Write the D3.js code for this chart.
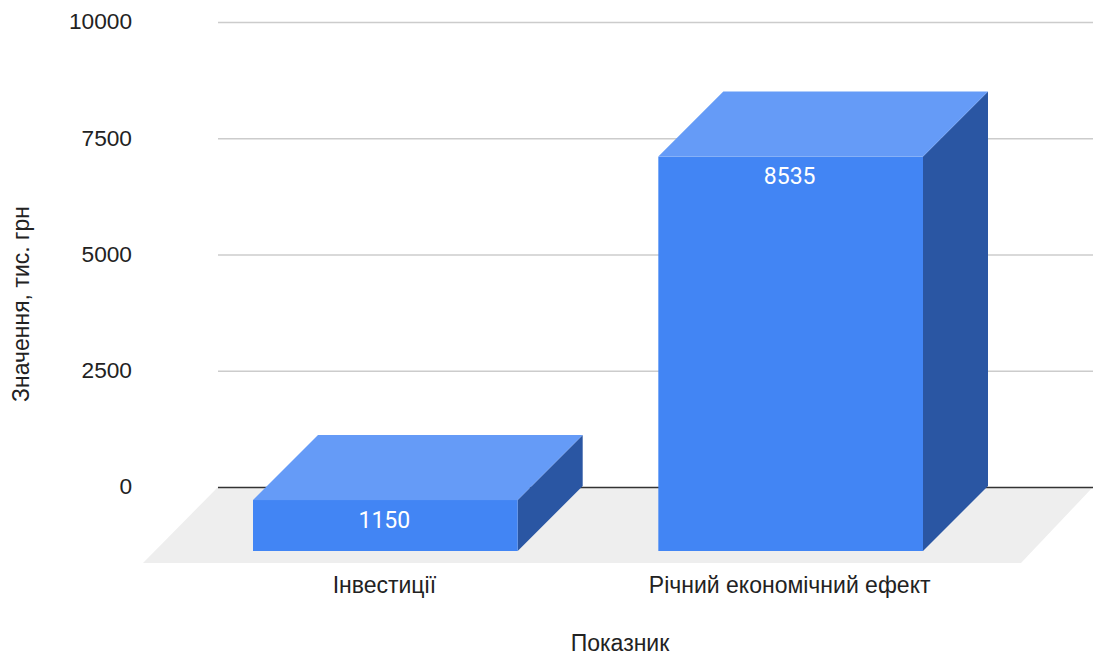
<!DOCTYPE html>
<html><head><meta charset="utf-8">
<script src="https://cdn.jsdelivr.net/npm/d3@7"></script>
<style>html,body{margin:0;background:#fff}svg{display:block}text{font-family:"Liberation Sans",Arial,sans-serif;fill:#222222}</style>
</head><body><svg id="c" width="1093" height="655"></svg>
<script>
const categories = ["Інвестиції", "Річний економічний ефект"];
const values = [1150, 8535];
const tickValues = [0, 2500, 5000, 7500, 10000];
const yTitle = "Значення, тис. грн";
const xTitle = "Показник";

const svg = d3.select("#c");
// Value scale on the back wall; front faces use the same scale pushed towards the viewer.
const y = d3.scaleLinear().domain([0, 10000]).range([487, 22]);
const x = d3.scaleBand().domain(categories).range([253, 923]).paddingInner(0.347).paddingOuter(0);
const dx = 65, dy = 65, frontShift = 66.5, bottom = 551;

// floor
svg.append("polygon").attr("fill", "#eeeeee")
  .attr("points", [[218,487],[1093,487],[1021,563],[143,563]].join(" "));

// gridlines and tick labels
svg.append("g").selectAll("line").data(tickValues).join("line")
  .attr("x1", 218).attr("x2", 1093)
  .attr("y1", d => y(d) + .5).attr("y2", d => y(d) + .5)
  .attr("stroke", d => d === 0 ? "#333333" : "#cccccc")
  .attr("stroke-width", d => d === 0 ? 1.4 : 1.5);
svg.append("g").selectAll("text").data(tickValues).join("text")
  .attr("x", 132).attr("y", d => y(d)).attr("dy", "0.32em")
  .attr("text-anchor", "end").attr("font-size", 22.7).text(d => d);

// boxes: side, top, then front face
const frontTop = v => y(v) + frontShift;
const box = svg.append("g").selectAll("g").data(categories).join("g");
box.append("polygon").attr("fill", "#2a56a3").attr("points", (d, i) => {
  const r = x(d) + x.bandwidth(), t = frontTop(values[i]);
  return [[r, bottom], [r, t], [r + dx, t - dy], [r + dx, bottom - dy]].join(" ");
});
box.append("polygon").attr("fill", "#659bf7").attr("points", (d, i) => {
  const l = x(d), r = l + x.bandwidth(), t = frontTop(values[i]);
  return [[l, t], [r, t], [r + dx, t - dy], [l + dx, t - dy]].join(" ");
});
box.append("rect").attr("fill", "#4285f4")
  .attr("x", d => x(d)).attr("width", x.bandwidth())
  .attr("y", (d, i) => frontTop(values[i])).attr("height", (d, i) => bottom - frontTop(values[i]));
box.append("text").attr("text-anchor", "middle").attr("font-size", 23)
  .style("font-family", "Roboto").style("fill", "#ffffff")
  .attr("x", d => x(d) + x.bandwidth() / 2 - 1).attr("y", (d, i) => frontTop(values[i]) + 27.5)
  .text((d, i) => values[i]);
box.append("text").attr("text-anchor", "middle").attr("font-size", 23)
  .attr("x", d => x(d) + x.bandwidth() / 2 - 1).attr("y", 593).text(d => d);

// axis titles
svg.append("text").attr("text-anchor", "middle").attr("font-size", 23)
  .attr("x", 620).attr("y", 651).text(xTitle);
svg.append("text").attr("text-anchor", "middle").attr("font-size", 23)
  .attr("transform", "translate(29,304) rotate(-90)").text(yTitle);
</script></body></html>
